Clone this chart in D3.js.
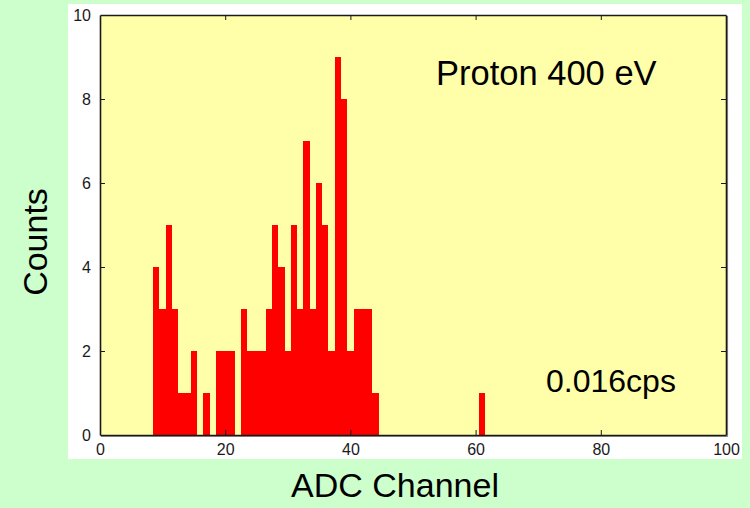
<!DOCTYPE html>
<html>
<head>
<meta charset="utf-8">
<script src="https://cdn.jsdelivr.net/npm/d3@7"></script>
<style>
  body { margin: 0; background: #ccffcc; }
  svg { display: block; font-family: "Liberation Sans", Arial, sans-serif; }
</style>
</head>
<body>
<div id="chart"></div>
<script>
//ADC channels that got hits, and the counts in each channel
var channels = [9, 10, 11, 12, 13, 14, 15, 17, 19, 20, 21, 23, 24, 25, 26, 27, 28, 29, 30,
                31, 32, 33, 34, 35, 36, 37, 38, 39, 40, 41, 42, 43, 44, 61];
var counts   = [4, 3, 5, 3, 1, 1, 2, 1, 2, 2, 2, 3, 2, 2, 2, 3, 5, 4, 2,
                5, 3, 7, 3, 6, 5, 2, 9, 8, 2, 3, 3, 3, 1, 1];
//Tick values for both axes
var xTicks = [0, 20, 40, 60, 80, 100];
var yTicks = [0, 2, 4, 6, 8, 10];

//Draw the histogram
function drawHistogram(){
    var w = 750;
    var h = 508;
    //Plot area edges
    var left = 100, right = 726, top = 15, bottom = 435;
    var tickLen = 5;

    var svg = d3.select("#chart")
            .append("svg")
            .attr("width", w)
            .attr("height", h);

    //Green page background
    svg.append("rect")
        .attr("width", w)
        .attr("height", h)
        .attr("fill", "#ccffcc");

    //White panel behind the plot
    svg.append("rect")
        .attr("x", 68)
        .attr("y", 4)
        .attr("width", 674)
        .attr("height", 455)
        .attr("fill", "#ffffff");

    var x = d3.scaleLinear().domain([0, 100]).range([left, right]);
    var y = d3.scaleLinear().domain([0, 10]).range([bottom, top]);

    //Soft shadow on the bottom and right of the frame
    svg.append("path")
        .attr("d", "M" + (left + 1) + "," + (bottom + 1.5) + "H" + (right + 1.5) + "V" + (top + 1))
        .attr("fill", "none")
        .attr("stroke", "#999")
        .attr("stroke-width", 1.2);

    //Yellow plot area
    svg.append("rect")
        .attr("x", left)
        .attr("y", top)
        .attr("width", right - left)
        .attr("height", bottom - top)
        .attr("fill", "#ffffaa");

    //Bars, one channel wide, centred on the channel number
    svg.selectAll("rect.bar")
        .data(channels)
        .enter()
        .append("rect")
        .attr("class", "bar")
        .attr("x", function(d){ return x(d - 0.5); })
        .attr("y", function(d, i){ return y(counts[i]); })
        .attr("width", function(d){ return x(d + 0.5) - x(d - 0.5); })
        .attr("height", function(d, i){ return y(0) - y(counts[i]); })
        .attr("fill", "#ff0000")
        .attr("shape-rendering", "crispEdges");

    //Axes with ticks pointing inwards
    var bottomAxis = d3.axisBottom(x).tickValues(xTicks).tickSizeInner(-tickLen).tickSizeOuter(0).tickPadding(9);
    var topAxis = d3.axisTop(x).tickValues(xTicks).tickSizeInner(-tickLen).tickSizeOuter(0).tickFormat("");
    var leftAxis = d3.axisLeft(y).tickValues(yTicks).tickSizeInner(-tickLen).tickSizeOuter(0).tickPadding(9);
    var rightAxis = d3.axisRight(y).tickValues(yTicks).tickSizeInner(-tickLen).tickSizeOuter(0).tickFormat("");

    var gB = svg.append("g").attr("transform", "translate(0," + bottom + ")").call(bottomAxis);
    var gT = svg.append("g").attr("transform", "translate(0," + top + ")").call(topAxis);
    var gL = svg.append("g").attr("transform", "translate(" + left + ",0)").call(leftAxis);
    var gR = svg.append("g").attr("transform", "translate(" + right + ",0)").call(rightAxis);

    [gB, gT, gL, gR].forEach(function(g){
        g.attr("font-size", 16).attr("font-family", "'Liberation Sans', Arial, sans-serif");
        g.select(".domain").attr("stroke", "#1a1a1a").attr("stroke-width", 1.6);
        g.selectAll(".tick line").attr("stroke", "#1a1a1a").attr("stroke-width", 1);
        g.selectAll(".tick text").attr("fill", "#1a1a1a");
    });
    //Hide the ticks sitting on the frame corners
    gB.selectAll(".tick").filter(function(d){ return d === 0 || d === 100; }).select("line").remove();
    gL.selectAll(".tick").filter(function(d){ return d === 0 || d === 10; }).select("line").remove();
    gT.selectAll(".tick").filter(function(d){ return d === 0 || d === 100; }).select("line").remove();
    gR.selectAll(".tick").filter(function(d){ return d === 0 || d === 10; }).select("line").remove();

    //Labels inside the plot
    svg.append("text")
        .attr("x", 436)
        .attr("y", 85)
        .style("font-size", "34.5px")
        .attr("fill", "#000")
        .text("Proton 400 eV");

    svg.append("text")
        .attr("x", 546)
        .attr("y", 392)
        .style("font-size", "32px")
        .attr("fill", "#000")
        .text("0.016cps");

    //Axis titles
    svg.append("text")
        .attr("x", 395)
        .attr("y", 497)
        .attr("text-anchor", "middle")
        .style("font-size", "34px")
        .attr("fill", "#000")
        .text("ADC Channel");

    svg.append("text")
        .attr("transform", "translate(47,242) rotate(-90)")
        .attr("text-anchor", "middle")
        .style("font-size", "34px")
        .attr("fill", "#000")
        .text("Counts");
}

window.onload = function(){
    drawHistogram();
};
</script>
</body>
</html>
